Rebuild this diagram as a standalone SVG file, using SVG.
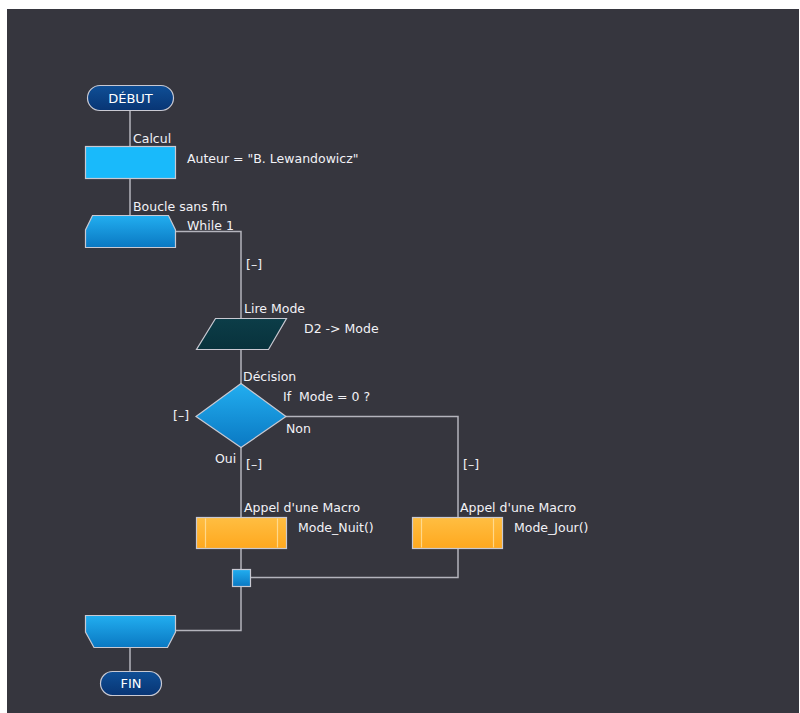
<svg xmlns="http://www.w3.org/2000/svg" width="800" height="713" viewBox="0 0 800 713">
<defs>
<linearGradient id="gBlue" x1="0" y1="0" x2="0" y2="1"><stop offset="0" stop-color="#22aef0"/><stop offset="1" stop-color="#0a78c2"/></linearGradient>
<linearGradient id="gPill" x1="0" y1="0" x2="0" y2="1"><stop offset="0" stop-color="#0f4f96"/><stop offset="1" stop-color="#083574"/></linearGradient>
<linearGradient id="gOrange" x1="0" y1="0" x2="0" y2="1"><stop offset="0" stop-color="#ffbe42"/><stop offset="1" stop-color="#ffa81e"/></linearGradient>
<linearGradient id="gTeal" x1="0" y1="0" x2="0" y2="1"><stop offset="0" stop-color="#0c3d48"/><stop offset="1" stop-color="#08323c"/></linearGradient>
<style>
.bd{stroke:#c9c9d2;stroke-width:1.2}
.ln{stroke:#b4b4bc;stroke-width:1.5;fill:none}
.t{font-family:"DejaVu Sans","Liberation Sans",sans-serif;font-size:12.5px;fill:#f2f2f6;white-space:pre}
.tt{font-family:"DejaVu Sans","Liberation Sans",sans-serif;font-size:13px;fill:#ffffff;text-anchor:middle}
.il{stroke:#ffe2a0;stroke-width:1.2;opacity:0.8}
</style>
</defs>
<rect x="0" y="0" width="800" height="713" fill="#ffffff"/>
<rect x="7" y="9" width="792" height="704" fill="#36363e"/>
<g id="connectors">
<path class="ln" d="M130 110 V146"/>
<path class="ln" d="M130 179 V215"/>
<path class="ln" d="M176 231.5 H241 V318"/>
<path class="ln" d="M241 349 V384"/>
<path class="ln" d="M286 416.5 H458 V517"/>
<path class="ln" d="M241 447 V517"/>
<path class="ln" d="M241 549 V569"/>
<path class="ln" d="M250 577.5 H458 V549"/>
<path class="ln" d="M241 586 V630.5 H176"/>
<path class="ln" d="M130 648 V671"/>
</g>
<g id="debut">
<rect class="bd" x="87.5" y="85.5" width="86" height="25" rx="12.5" fill="url(#gPill)"/>
<text class="tt" x="130.5" y="103">DÉBUT</text>
</g>
<g id="calcul">
<rect class="bd" x="85.5" y="146.5" width="90" height="32" fill="#19bafb"/>
<text class="t" x="133" y="143">Calcul</text>
<text class="t" x="187" y="163">Auteur = "B. Lewandowicz"</text>
</g>
<g id="boucle">
<path class="bd" d="M92.5 215.5 H168.5 L175.5 230 V247.5 H85.5 V230 Z" fill="url(#gBlue)"/>
<text class="t" x="133" y="211">Boucle sans fin</text>
<text class="t" x="187" y="230">While 1</text>
<text class="t" x="246" y="269">[–]</text>
</g>
<g id="lire">
<path class="bd" d="M215.5 318.5 H286.5 L268.5 349.5 H196.5 Z" fill="url(#gTeal)"/>
<text class="t" x="244" y="313">Lire Mode</text>
<text class="t" x="304" y="333">D2 -&gt; Mode</text>
</g>
<g id="decision">
<path class="bd" d="M241 383.5 L286 416.5 L241 447.5 L196 416.5 Z" fill="url(#gBlue)"/>
<text class="t" x="243" y="381">Décision</text>
<text class="t" x="283" y="401">If  Mode = 0 ?</text>
<text class="t" x="286" y="433">Non</text>
<text class="t" x="173" y="420">[–]</text>
<text class="t" x="215" y="463">Oui</text>
<text class="t" x="246" y="469">[–]</text>
<text class="t" x="463" y="469">[–]</text>
</g>
<g id="macro-nuit">
<rect class="bd" x="196.5" y="517.5" width="90" height="31" fill="url(#gOrange)"/>
<line class="il" x1="205.5" y1="518.5" x2="205.5" y2="547.5"/>
<line class="il" x1="277.5" y1="518.5" x2="277.5" y2="547.5"/>
<text class="t" x="244" y="512">Appel d'une Macro</text>
<text class="t" x="298" y="532">Mode_Nuit()</text>
</g>
<g id="macro-jour">
<rect class="bd" x="412.5" y="517.5" width="90" height="31" fill="url(#gOrange)"/>
<line class="il" x1="421.5" y1="518.5" x2="421.5" y2="547.5"/>
<line class="il" x1="493.5" y1="518.5" x2="493.5" y2="547.5"/>
<text class="t" x="460" y="512">Appel d'une Macro</text>
<text class="t" x="514" y="532">Mode_Jour()</text>
</g>
<g id="jonction">
<rect class="bd" x="232.5" y="569.5" width="18" height="17" fill="url(#gBlue)"/>
</g>
<g id="fin-boucle">
<path class="bd" d="M85.5 615.5 H175.5 V632 L167.5 647.5 H94 L85.5 632 Z" fill="url(#gBlue)"/>
</g>
<g id="fin">
<rect class="bd" x="100.5" y="671.5" width="61" height="24" rx="12" fill="url(#gPill)"/>
<text class="tt" x="131" y="688">FIN</text>
</g>
</svg>
